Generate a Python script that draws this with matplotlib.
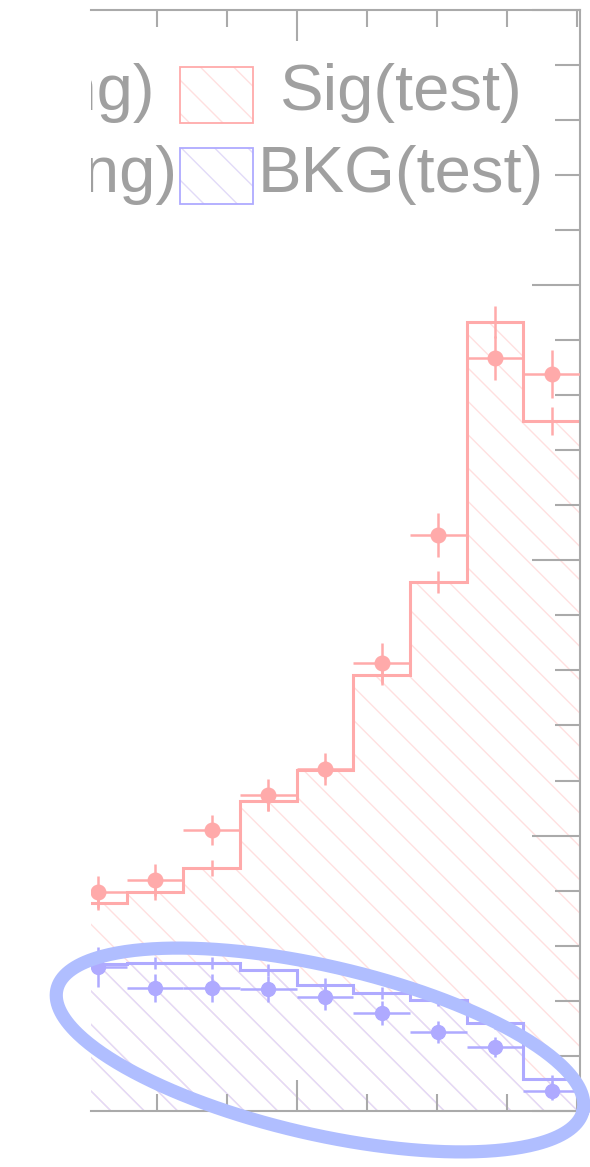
"""
TMVA 风格的分类器输出分布（局部截图重绘）
Sig/BKG 的 test 直方图 + training 数据点
"""
import numpy as np
import matplotlib
matplotlib.use('Agg')
import matplotlib.pyplot as plt
from matplotlib.ticker import MultipleLocator
from matplotlib.patches import Rectangle
from matplotlib.lines import Line2D

plt.rcParams['font.family'] = ['Liberation Sans', 'DejaVu Sans']
plt.rcParams['hatch.linewidth'] = 1.0

# 分箱边界（可见部分）
edges = [-0.324, -0.243, -0.162, -0.081, 0.0, 0.081, 0.162, 0.243, 0.324, 0.405]

# Signal
sig_test = [0.755, 0.795, 0.882, 1.124, 1.238, 1.583, 1.922, 2.866, 2.505]
sig_test_err = [0.025, 0.029, 0.029, 0.033, 0.033, 0.036, 0.040, 0.058, 0.051]
sig_train = [0.795, 0.839, 1.020, 1.147, 1.241, 1.626, 2.092, 2.735, 2.675]
sig_train_err = [0.058, 0.058, 0.054, 0.058, 0.058, 0.073, 0.080, 0.080, 0.087]

# Background
bkg_test = [0.534, 0.536, 0.538, 0.512, 0.458, 0.427, 0.403, 0.321, 0.115]
bkg_test_err = [0.022, 0.022, 0.022, 0.022, 0.025, 0.022, 0.022, 0.022, 0.015]
bkg_train = [0.523, 0.446, 0.446, 0.442, 0.415, 0.355, 0.288, 0.232, 0.074]
bkg_train_err = [0.073, 0.051, 0.051, 0.047, 0.047, 0.044, 0.040, 0.036, 0.033]

legend_labels = [('Sig(training)', 'Sig(test)'), ('BKG(training)', 'BKG(test)')]

SIG_COLOR = '#FFAAAA'
BKG_COLOR = '#AFAAFF'
SIG_HATCH = '#FFE0E0'
BKG_HATCH = '#E2DAF8'
AXIS_GRAY = '#AAAAAA'
TEXT_GRAY = '#A0A0A0'

W, H = 590, 1167
fig = plt.figure(figsize=(W / 100, H / 100), dpi=100)
ax = fig.add_axes([91 / W, 56 / H, 489 / W, 1101.5 / H])

edges_arr = np.array(edges)
lefts = edges_arr[:-1]
widths = np.diff(edges_arr)
centers = lefts + widths / 2

# 阴影填充
ax.bar(lefts, sig_test, width=widths, align='edge', fill=False,
       hatch='\\', edgecolor=SIG_HATCH, linewidth=0, zorder=1)
ax.bar(lefts, bkg_test, width=widths, align='edge', fill=False,
       hatch='\\', edgecolor=BKG_HATCH, linewidth=0, zorder=1.1)

# test 直方图（阶梯线 + 竖直误差）
ax.stairs(sig_test, edges, baseline=None, color=SIG_COLOR, linewidth=2.2, zorder=2)
ax.stairs(bkg_test, edges, baseline=None, color=BKG_COLOR, linewidth=2.2, zorder=2)
ax.errorbar(centers, sig_test, yerr=sig_test_err, fmt='none',
            ecolor=SIG_COLOR, elinewidth=1.8, capsize=0, zorder=2)
ax.errorbar(centers, bkg_test, yerr=bkg_test_err, fmt='none',
            ecolor=BKG_COLOR, elinewidth=1.8, capsize=0, zorder=2)

# training 数据点
ax.errorbar(centers, sig_train, yerr=sig_train_err, xerr=widths / 2, fmt='o',
            color=SIG_COLOR, ms=10.5, elinewidth=1.8, capsize=0, zorder=3)
ax.errorbar(centers, bkg_train, yerr=bkg_train_err, xerr=widths / 2, fmt='o',
            color=BKG_COLOR, ms=10, elinewidth=1.8, capsize=0, zorder=3)

ax.set_xlim(-0.2939, 0.405)
ax.set_ylim(0, 4)

# 坐标轴样式
ax.xaxis.set_major_locator(MultipleLocator(0.5))
ax.xaxis.set_minor_locator(MultipleLocator(0.1))
ax.yaxis.set_major_locator(MultipleLocator(1))
ax.yaxis.set_minor_locator(MultipleLocator(0.2))
ax.tick_params(axis='x', which='both', direction='in', top=True, bottom=True,
               labelbottom=False, labeltop=False, color=AXIS_GRAY, width=1.5)
ax.tick_params(axis='x', which='major', length=22)
ax.tick_params(axis='x', which='minor', length=12.5)
ax.tick_params(axis='y', which='both', direction='in', left=False, right=True,
               labelleft=False, labelright=False, color=AXIS_GRAY, width=1.5)
ax.tick_params(axis='y', which='major', length=34.5)
ax.tick_params(axis='y', which='minor', length=18)
ax.spines['left'].set_visible(False)
for side in ['top', 'right', 'bottom']:
    ax.spines[side].set_color(AXIS_GRAY)
    ax.spines[side].set_linewidth(1.5)

# 图例（左侧被裁掉）
box_x, box_w, box_h = 0.182, 0.149, 0.0508
rows = [(0.9088, 0.897, SIG_COLOR, SIG_HATCH), (0.8343, 0.8234, BKG_COLOR, BKG_HATCH)]
for (train_lab, test_lab), (base_y, box_y, col, hcol) in zip(legend_labels, rows):
    ax.add_patch(Rectangle((box_x, box_y), box_w, box_h, transform=ax.transAxes,
                           fill=False, hatch='\\', edgecolor=hcol, linewidth=0, zorder=4))
    ax.add_patch(Rectangle((box_x, box_y), box_w, box_h, transform=ax.transAxes,
                           fill=False, edgecolor=col, linewidth=1.3, zorder=4))
    ax.text(-0.227, base_y, train_lab, transform=ax.transAxes, ha='center',
            va='baseline', fontsize=47, color=TEXT_GRAY, clip_on=True, zorder=4)
    ax.text(0.634, base_y, test_lab, transform=ax.transAxes, ha='center',
            va='baseline', fontsize=47, color=TEXT_GRAY, zorder=4)

# 手绘椭圆标注
t = np.linspace(0, 2 * np.pi, 400)
cx, cy, a, b, th = 320, 1050, 270, 84, np.radians(13.0)
ex = cx + a * np.cos(t) * np.cos(th) - b * np.sin(t) * np.sin(th)
ey = cy + a * np.cos(t) * np.sin(th) + b * np.sin(t) * np.cos(th)
fig.add_artist(Line2D(ex / W, 1 - ey / H, transform=fig.transFigure,
                      color='#B0BEFF', linewidth=9.5, solid_capstyle='round'))

plt.savefig('out.png', dpi=100)
